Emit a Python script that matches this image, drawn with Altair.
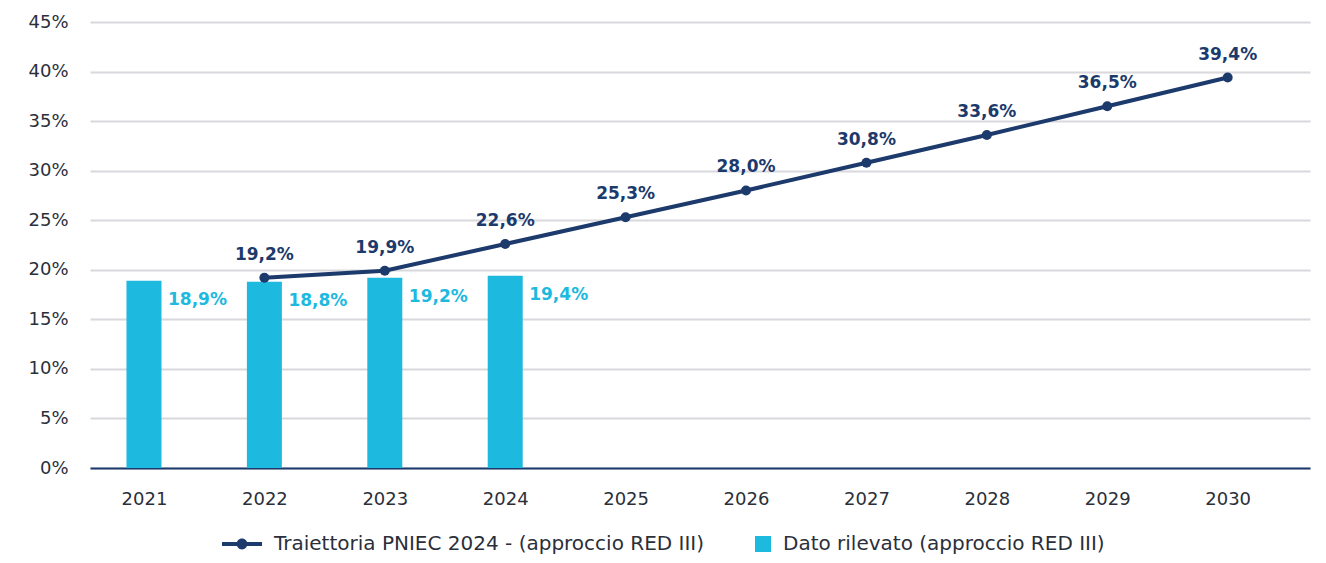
import altair as alt
import pandas as pd

# ---- data ----
years = ["2021", "2022", "2023", "2024", "2025", "2026", "2027", "2028", "2029", "2030"]
bar_years = ["2021", "2022", "2023", "2024"]
bar_values = [18.9, 18.8, 19.2, 19.4]
line_years = ["2022", "2023", "2024", "2025", "2026", "2027", "2028", "2029", "2030"]
line_values = [19.2, 19.9, 22.6, 25.3, 28.0, 30.8, 33.6, 36.5, 39.4]
series_line = "Traiettoria PNIEC 2024 - (approccio RED III)"
series_bar = "Dato rilevato (approccio RED III)"
y_ticks = [0, 5, 10, 15, 20, 25, 30, 35, 40, 45]

NAVY = "#1C3A6B"
CYAN = "#1EB9DF"
TEXT = "#2B2F3A"
GRID = "#D8D8DD"
FONT = "DejaVu Sans"

df = pd.concat([
    pd.DataFrame({"year": line_years, "value": line_values, "series": series_line}),
    pd.DataFrame({"year": bar_years, "value": bar_values, "series": series_bar}),
], ignore_index=True)

x_enc = alt.X(
    "year:O", sort=years,
    scale=alt.Scale(type="point", padding=0.566, align=0.396, domain=years),
    axis=alt.Axis(title=None, labelAngle=0, ticks=False, domainColor=NAVY, domainWidth=2,
                  labelPadding=22, labelFontSize=18, labelColor=TEXT, labelFont=FONT, grid=False),
)
y_enc = alt.Y(
    "value:Q",
    scale=alt.Scale(domain=[0, 45], nice=False),
    axis=alt.Axis(title=None, values=y_ticks, labelExpr="datum.value + '%'", ticks=False, domain=False,
                  gridColor=GRID, gridWidth=2, labelPadding=22, labelFontSize=18,
                  labelColor=TEXT, labelFont=FONT),
)

base = alt.Chart(df).transform_calculate(
    label="replace(format(datum.value, '.1f'), '.', ',') + '%'"
)

bars = base.transform_filter(alt.datum.series == series_bar).mark_bar(size=35, color=CYAN).encode(
    x=x_enc, y=y_enc
)
bar_labels = base.transform_filter(alt.datum.series == series_bar).mark_text(
    align="left", baseline="middle", dx=24, dy=19, color=CYAN, fontWeight="bold", fontSize=17, font=FONT
).encode(x=x_enc, y=y_enc, text="label:N")

line = base.transform_filter(alt.datum.series == series_line).mark_line(
    color=NAVY, strokeWidth=4, point=alt.OverlayMarkDef(filled=True, size=100, color=NAVY)
).encode(x=x_enc, y=y_enc)
line_labels = base.transform_filter(alt.datum.series == series_line).mark_text(
    align="center", baseline="middle", dy=-23, color=NAVY, fontWeight="bold", fontSize=17, font=FONT
).encode(x=x_enc, y=y_enc, text="label:N")

line_sym = "M-1,-0.1 H1 V0.1 H-1 Z M-0.27,0 A0.27,0.27 0 1,1 0.27,0 A0.27,0.27 0 1,1 -0.27,0 Z"
sq_sym = "M0.2,-0.4 H1 V0.4 H0.2 Z"

leg = alt.Legend(title=None, orient="none", direction="horizontal",
                 legendX=132, legendY=502, symbolSize=1600, symbolOpacity=1,
                 symbolStrokeWidth=0, labelFontSize=20, labelColor=TEXT,
                 labelFont=FONT, labelOffset=12, columnPadding=26, labelLimit=1000)

legend_pts = base.mark_point(filled=True, opacity=0).encode(
    x=x_enc, y=y_enc,
    color=alt.Color("series:N", scale=alt.Scale(domain=[series_line, series_bar], range=[NAVY, CYAN]),
                    legend=leg),
    shape=alt.Shape("series:N", scale=alt.Scale(domain=[series_line, series_bar], range=[line_sym, sq_sym]),
                    legend=leg),
)

chart = alt.layer(bars, bar_labels, line, line_labels, legend_pts).properties(
    width=1220, height=446,
    background="white",
    autosize=alt.AutoSizeParams(type="none"),
    padding={"left": 82, "top": 14, "right": 8, "bottom": 87},
).configure_view(stroke=None)

chart.save("out.html", embed_options={"renderer": "svg", "actions": False})
